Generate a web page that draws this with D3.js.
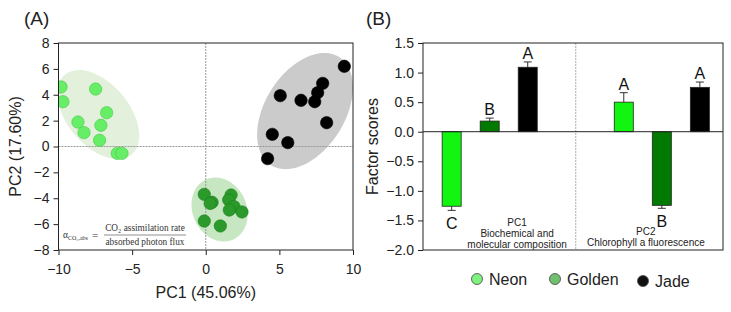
<!DOCTYPE html>
<html>
<head>
  <meta charset="utf-8">
  <title>PCA</title>
  <script src="https://cdn.jsdelivr.net/npm/d3@7"></script>
  <style>
    body { margin: 0; background: #fff; }
    svg { font-family: "Liberation Sans", Arial, sans-serif; }
    .axis text { font-size: 14px; fill: #222; }
    .axis path, .axis line { stroke: #222; }
  </style>
</head>
<body>
<script>
  // ---- panel A data (PC scores) ----
  var neonPC1 = [-9.83, -9.7, -8.68, -8.27, -7.48, -6.73, -7.12, -7.21, -6.01, -5.69];
  var neonPC2 = [4.6, 3.46, 1.89, 1.07, 4.44, 2.61, 1.64, 0.48, -0.53, -0.53];
  var goldenPC1 = [-0.1, 0.43, 0.3, 1.72, 1.56, 1.92, 1.6, 2.46, -0.1, 0.99];
  var goldenPC2 = [-3.7, -4.31, -4.4, -3.75, -4.13, -4.65, -4.91, -5.06, -5.76, -6.14];
  var jadePC1 = [9.41, 7.94, 7.6, 7.4, 6.47, 5.06, 8.21, 4.52, 5.57, 4.2];
  var jadePC2 = [6.2, 4.88, 4.16, 3.46, 3.57, 3.93, 1.84, 0.94, 0.3, -0.94];

  // confidence ellipses: center and two half-axis vectors, in PC units
  var ellCenter = [[-7.3, 2.47], [0.94, -4.87], [6.74, 2.74]];
  var ellAxisA = [[2.27, -3.08], [0.94, -2.31], [2.3, 4.19]];
  var ellAxisB = [[-1.61, -1.54], [1.66, 0.88], [-2.3, 1.62]];

  // ---- panel B data (factor scores) ----
  var groups = ["PC1", "PC2"];
  var groupText = [["PC1", "Biochemical and", "molecular composition"], ["PC2", "Chlorophyll a fluorescence"]];
  var cultivars = ["Neon", "Golden", "Jade"];
  var scores = [[-1.26, 0.18, 1.09], [0.5, -1.245, 0.75]];
  var errs = [[0.07, 0.05, 0.09], [0.16, 0.05, 0.09]];
  var letters = [["C", "B", "A"], ["A", "B", "A"]];

  var ptColor = {Neon: "#66ee66", Golden: "#2a9a2a", Jade: "#000"};
  var ptStroke = {Neon: "#4cc44c", Golden: "#1f7d1f", Jade: "#000"};
  var ellColor = ["#e3f1dc", "#c6e7c2", "#cbcbcb"];
  var barColor = {Neon: "#11f511", Golden: "#007a00", Jade: "#000"};
  var legColor = {Neon: "#80f080", Golden: "#70c070", Jade: "#111"};

  var svg = d3.select("body").append("svg")
      .attr("width", 731)
      .attr("height", 312);

  // ================= panel A =================
  var ax = d3.scaleLinear().domain([-10, 10]).range([58.5, 353]);
  var ay = d3.scaleLinear().domain([-8, 8]).range([250, 43]);

  svg.append("text").attr("x", 24).attr("y", 25)
      .style("font-size", "19px").attr("fill", "#222").text("(A)");

  svg.append("defs").append("clipPath").attr("id", "clipA")
    .append("rect")
      .attr("x", ax(-10)).attr("y", ay(8))
      .attr("width", ax(10) - ax(-10)).attr("height", ay(-8) - ay(8));

  var gA = svg.append("g").attr("clip-path", "url(#clipA)");

  // ellipses
  var ts = d3.range(0, 2 * Math.PI + 0.01, Math.PI / 60);
  var line = d3.line().x(function (d) { return ax(d[0]); }).y(function (d) { return ay(d[1]); });
  ellCenter.forEach(function (c, i) {
    var pts = ts.map(function (t) {
      return [c[0] + Math.cos(t) * ellAxisA[i][0] + Math.sin(t) * ellAxisB[i][0],
              c[1] + Math.cos(t) * ellAxisA[i][1] + Math.sin(t) * ellAxisB[i][1]];
    });
    gA.append("path").attr("d", line(pts)).attr("fill", ellColor[i]);
  });

  // zero lines
  gA.append("line")
      .attr("x1", ax(-10)).attr("x2", ax(10)).attr("y1", ay(0)).attr("y2", ay(0))
      .attr("stroke", "#999").attr("stroke-dasharray", "2,1");
  gA.append("line")
      .attr("x1", ax(0)).attr("x2", ax(0)).attr("y1", ay(8)).attr("y2", ay(-8))
      .attr("stroke", "#999").attr("stroke-dasharray", "2,1");

  // points
  function drawPts(xs, ys, name) {
    gA.selectAll(null).data(xs).enter().append("circle")
        .attr("cx", function (d) { return ax(d); })
        .attr("cy", function (d, i) { return ay(ys[i]); })
        .attr("r", 6.2)
        .attr("fill", ptColor[name])
        .attr("stroke", ptStroke[name])
        .attr("stroke-width", 0.6);
  }
  drawPts(neonPC1, neonPC2, "Neon");
  drawPts(goldenPC1, goldenPC2, "Golden");
  drawPts(jadePC1, jadePC2, "Jade");

  // frame
  svg.append("rect")
      .attr("x", ax(-10)).attr("y", ay(8))
      .attr("width", ax(10) - ax(-10)).attr("height", ay(-8) - ay(8))
      .attr("fill", "none").attr("stroke", "#222");

  svg.append("g").attr("class", "axis")
      .attr("transform", "translate(0," + ay(-8) + ")")
      .call(d3.axisBottom(ax).tickValues([-10, -5, 0, 5, 10]).tickSize(5).tickPadding(9))
      .call(function (g) { g.select(".domain").remove(); });

  svg.append("g").attr("class", "axis")
      .attr("transform", "translate(" + ax(-10) + ",0)")
      .call(d3.axisLeft(ay).tickValues(d3.range(-8, 9, 2)).tickSize(5).tickPadding(4))
      .call(function (g) { g.select(".domain").remove(); });

  svg.append("text")
      .attr("x", (ax(-10) + ax(10)) / 2).attr("y", 298)
      .attr("text-anchor", "middle").style("font-size", "16px").attr("fill", "#222")
      .text("PC1 (45.06%)");

  svg.append("text")
      .attr("transform", "translate(21," + ay(0) + ") rotate(-90)")
      .attr("text-anchor", "middle").style("font-size", "16px").attr("fill", "#222")
      .text("PC2 (17.60%)");

  // formula annotation
  var fm = svg.append("g")
      .style("font-family", "'Liberation Serif', 'DejaVu Serif', serif")
      .attr("fill", "#333");
  fm.append("text").attr("x", 63).attr("y", 238).style("font-size", "9.5px")
      .text("α").append("tspan").attr("dy", 1.5).style("font-size", "6px").text("CO₂,abs");
  fm.append("text").attr("x", 92).attr("y", 238.5).style("font-size", "11px").text("=");
  fm.append("line").attr("x1", 104).attr("x2", 186).attr("y1", 235).attr("y2", 235)
      .attr("stroke", "#444").attr("stroke-width", 0.6);
  fm.append("text").attr("x", 145).attr("y", 231).attr("text-anchor", "middle")
      .style("font-size", "9.3px").text("CO₂ assimilation rate");
  fm.append("text").attr("x", 145).attr("y", 244.5).attr("text-anchor", "middle")
      .style("font-size", "9.3px").text("absorbed photon flux");

  // ================= panel B =================
  var left = 423, right = 723;
  var by = d3.scaleLinear().domain([-2, 1.5]).range([250, 43]);
  var gx = d3.scaleBand().domain(groups).range([left, right])
      .paddingInner(0.337).paddingOuter(0.04).align(0.7);
  var cx = d3.scaleBand().domain(cultivars).range([0, gx.bandwidth()])
      .paddingInner(0.5).paddingOuter(0.25);

  svg.append("text").attr("x", 366).attr("y", 25)
      .style("font-size", "19px").attr("fill", "#222").text("(B)");

  var gB = svg.append("g");
  var divX = (gx("PC1") + gx.bandwidth() + gx("PC2")) / 2;
  gB.append("line")
      .attr("x1", divX).attr("x2", divX).attr("y1", by(1.5)).attr("y2", by(-2))
      .attr("stroke", "#888").attr("stroke-width", 0.7).attr("stroke-dasharray", "2,1");

  groups.forEach(function (g, gi) {
    cultivars.forEach(function (c, ci) {
      var v = scores[gi][ci], e = errs[gi][ci];
      var x0 = gx(g) + cx(c), w = cx.bandwidth(), mid = x0 + w / 2;
      var tip = v >= 0 ? v + e : v - e;
      gB.append("line")
          .attr("x1", mid).attr("x2", mid).attr("y1", by(v)).attr("y2", by(tip))
          .attr("stroke", "#333").attr("stroke-width", 1);
      gB.append("line")
          .attr("x1", mid - 4).attr("x2", mid + 4).attr("y1", by(tip)).attr("y2", by(tip))
          .attr("stroke", "#333").attr("stroke-width", 1);
      gB.append("rect")
          .attr("x", x0).attr("width", w)
          .attr("y", by(Math.max(0, v))).attr("height", Math.abs(by(v) - by(0)))
          .attr("fill", barColor[c]).attr("stroke", "#222").attr("stroke-width", 0.8);
      gB.append("text")
          .attr("x", mid)
          .attr("y", v >= 0 ? by(tip) - 3 : by(tip) + 19)
          .attr("text-anchor", "middle").style("font-size", "16px").attr("fill", "#111")
          .text(letters[gi][ci]);
    });
  });

  // group descriptions
  var descX = [gx("PC1") + gx.bandwidth() * 0.74, gx("PC2") + gx.bandwidth() * 0.36];
  var descY = [226, 235];
  groupText.forEach(function (lines, gi) {
    var t = gB.append("text").attr("text-anchor", "middle")
        .style("font-size", "10px").attr("fill", "#222");
    lines.forEach(function (s, li) {
      t.append("tspan").attr("x", descX[gi]).attr("y", descY[gi] + li * 10.8).text(s);
    });
  });

  // zero line + frame
  gB.append("line")
      .attr("x1", left).attr("x2", right).attr("y1", by(0)).attr("y2", by(0))
      .attr("stroke", "#222").attr("stroke-width", 1);
  svg.append("rect")
      .attr("x", left).attr("y", by(1.5))
      .attr("width", right - left).attr("height", by(-2) - by(1.5))
      .attr("fill", "none").attr("stroke", "#222");

  svg.append("g").attr("class", "axis")
      .attr("transform", "translate(" + left + ",0)")
      .call(d3.axisLeft(by).tickValues(d3.range(-2, 1.51, 0.5)).tickFormat(d3.format(".1f"))
        .tickSize(5).tickPadding(4))
      .call(function (g) { g.select(".domain").remove(); });

  svg.append("text")
      .attr("transform", "translate(378," + by(-0.25) + ") rotate(-90)")
      .attr("text-anchor", "middle").style("font-size", "16px").attr("fill", "#222")
      .text("Factor scores");

  // legend
  var legX = [477, 555, 643];
  var leg = svg.append("g");
  cultivars.forEach(function (c, i) {
    leg.append("circle").attr("cx", legX[i]).attr("cy", 279 + (i === 2 ? 2 : 0)).attr("r", 5.5)
        .attr("fill", legColor[c]).attr("stroke", "#444").attr("stroke-width", 0.8);
    leg.append("text").attr("x", legX[i] + 12).attr("y", 285 + (i === 2 ? 2 : 0))
        .style("font-size", "16px").attr("fill", "#222").text(c);
  });
</script>
</body>
</html>
